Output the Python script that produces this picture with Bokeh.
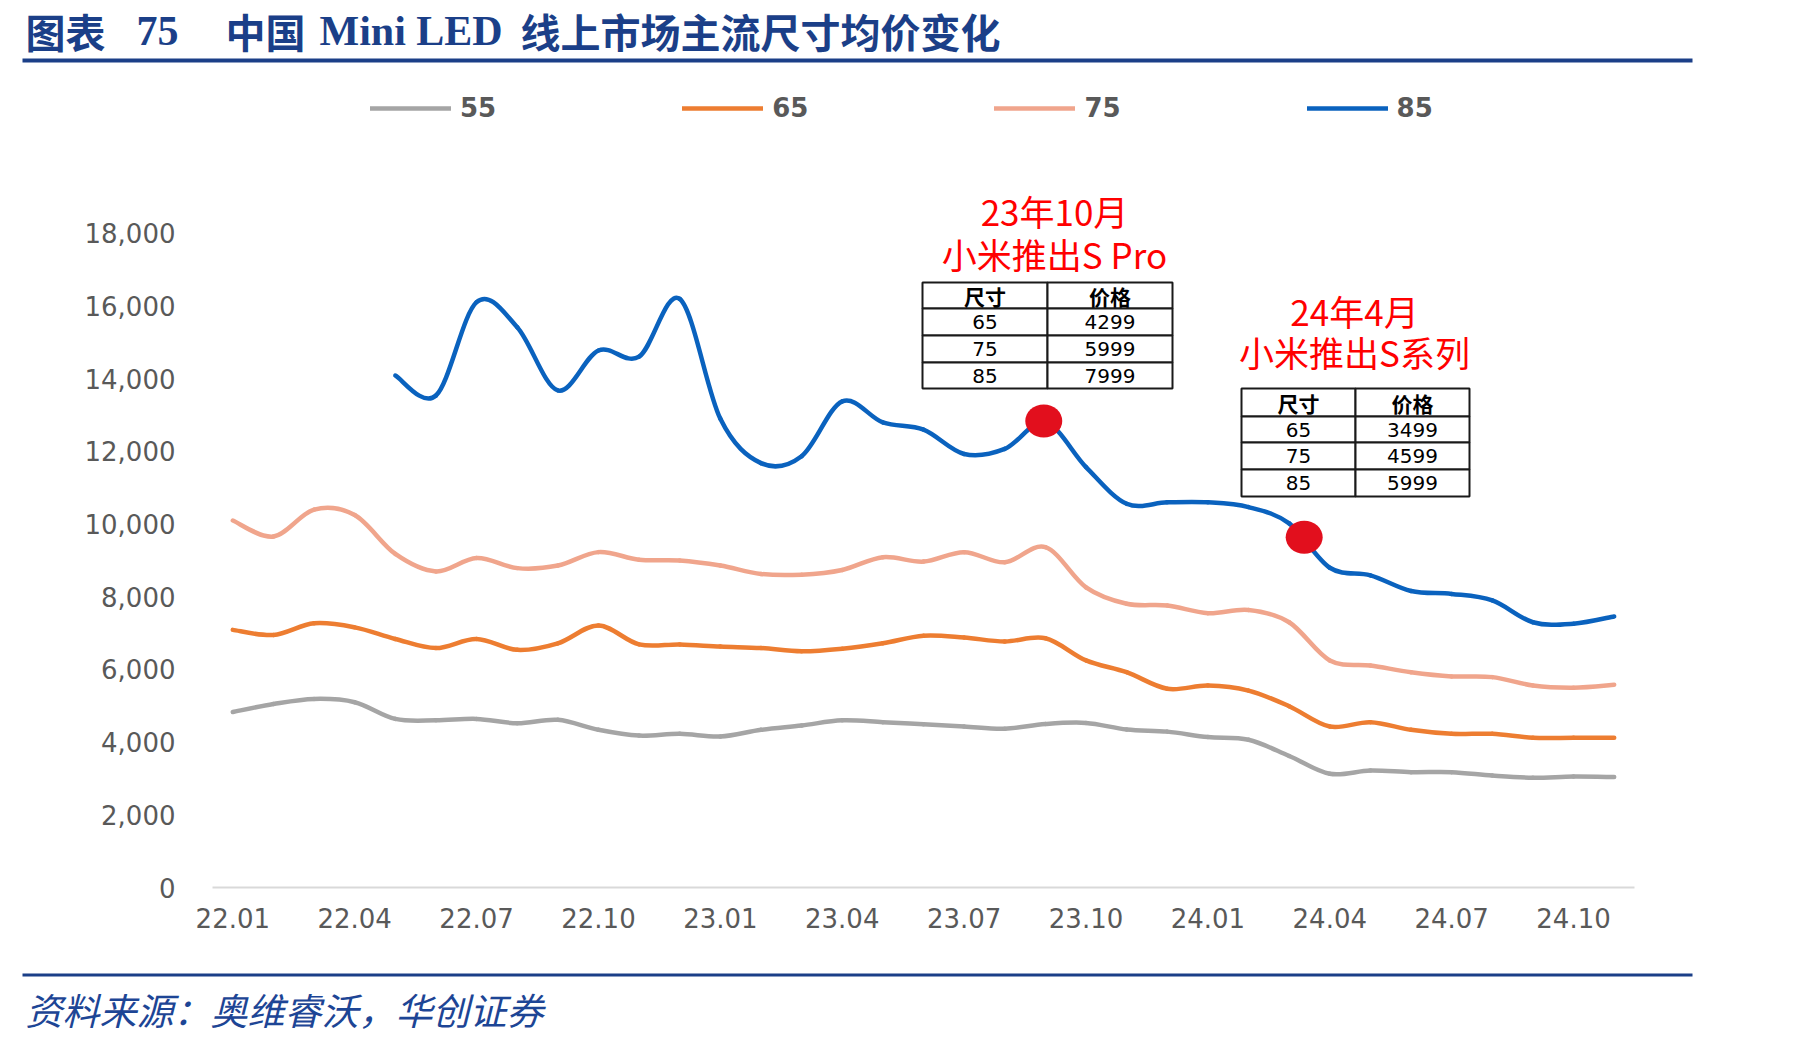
from bokeh.plotting import figure
from bokeh.models import Range1d, FixedTicker, NumeralTickFormatter, Legend, LegendItem
from bokeh.layouts import column
from bokeh.embed import file_html
from bokeh.resources import INLINE
from bokeh.core.properties import value

# ---------------- data ----------------
months = ["22.01", "22.02", "22.03", "22.04", "22.05", "22.06", "22.07", "22.08", "22.09",
          "22.10", "22.11", "22.12", "23.01", "23.02", "23.03", "23.04", "23.05", "23.06",
          "23.07", "23.08", "23.09", "23.10", "23.11", "23.12", "24.01", "24.02", "24.03",
          "24.04", "24.05", "24.06", "24.07", "24.08", "24.09", "24.10", "24.11"]

size_labels = ["55", "65", "75", "85"]

price_55 = [4830, 5050, 5190, 5100, 4640, 4600, 4640, 4520, 4615, 4340, 4180, 4230, 4155,
            4340, 4460, 4600, 4550, 4490, 4430, 4370, 4500, 4530, 4350, 4290, 4140, 4065,
            3620, 3130, 3220, 3175, 3175, 3080, 3020, 3055, 3040]
price_65 = [7090, 6950, 7270, 7160, 6840, 6590, 6840, 6540, 6720, 7210, 6690, 6690, 6630,
            6590, 6500, 6570, 6720, 6930, 6880, 6770, 6860, 6250, 5925, 5470, 5560, 5420,
            4990, 4430, 4550, 4340, 4230, 4230, 4120, 4120, 4120]
price_75 = [10100, 9660, 10400, 10250, 9180, 8700, 9070, 8790, 8860, 9230, 9020, 9000, 8860,
            8630, 8610, 8740, 9090, 8970, 9230, 8950, 9365, 8260, 7810, 7760, 7550, 7640,
            7300, 6250, 6110, 5925, 5810, 5790, 5560, 5500, 5580]
price_85 = [None, None, None, None, 14090, 13540, 16110, 15420, 13680, 14780, 14610, 16200,
            12900, 11680, 11870, 13380, 12800, 12600, 11930, 12070, 12800, 11570, 10560,
            10600, 10600, 10470, 10020, 8800, 8590, 8160, 8080, 7900, 7300, 7260, 7460]

y_ticks = [0, 2000, 4000, 6000, 8000, 10000, 12000, 14000, 16000, 18000]
x_tick_idx = list(range(0, 34, 3))

# launch events on the 85-inch curve
event_x = [19.96, 26.37]
event_y = [12840, 9640]
event_titles = ["23年10月", "24年4月"]
event_subtitles = ["小米推出S Pro", "小米推出S系列"]
table_header = ["尺寸", "价格"]
table_sizes = ["65", "75", "85"]
table_prices_1 = [4299, 5999, 7999]
table_prices_2 = [3499, 4599, 5999]

# ---------------- styling ----------------
colors = ["#A5A5A5", "#ED7D31", "#F0A58C", "#0A62BE"]
NAVY = "#1B3F88"
AXIS_FONT = "DejaVu Sans"
CJK = "Noto Sans CJK SC"

W = 1801
TOP_H, MAIN_H, BOT_H = 66, 899, 78
LEFT, RIGHT, BOTTOM = 212, 167, 78
FRAME_W = W - LEFT - RIGHT
FRAME_H = MAIN_H - BOTTOM
PX_PER_2000 = 72.67
Y_TOP = FRAME_H * 2000 / PX_PER_2000


def smooth_segments(vals):
    """Catmull-Rom style cubic segments through the points (Excel smoothed line)."""
    pts = [(float(i), float(v)) for i, v in enumerate(vals) if v is not None]
    out = dict(x0=[], y0=[], x1=[], y1=[], cx0=[], cy0=[], cx1=[], cy1=[])
    n = len(pts)
    for k in range(n - 1):
        p0 = pts[max(k - 1, 0)]
        p1 = pts[k]
        p2 = pts[k + 1]
        p3 = pts[min(k + 2, n - 1)]
        out["x0"].append(p1[0]); out["y0"].append(p1[1])
        out["x1"].append(p2[0]); out["y1"].append(p2[1])
        out["cx0"].append(p1[0] + (p2[0] - p0[0]) / 6.0)
        out["cy0"].append(p1[1] + (p2[1] - p0[1]) / 6.0)
        out["cx1"].append(p2[0] - (p3[0] - p1[0]) / 6.0)
        out["cy1"].append(p2[1] - (p3[1] - p1[1]) / 6.0)
    return out


# ---------------- header strip ----------------
top = figure(width=W, height=TOP_H, x_range=Range1d(0, W), y_range=Range1d(TOP_H, 0),
             output_backend="svg", toolbar_location=None, x_axis_type=None, y_axis_type=None,
             min_border=0, frame_align=False)
top.outline_line_color = None
top.grid.visible = False
title_parts = [
    ("图表", 25, CJK, "40px"),
    ("75", 136, "Liberation Serif", "42px"),
    ("中国", 225, CJK, "40px"),
    ("Mini LED", 319, "Liberation Serif", "42px"),
    ("线上市场主流尺寸均价变化", 520, CJK, "40px"),
]
for txt, x0, font, size in title_parts:
    top.text(x=[x0], y=[30], text=[txt], text_font=value(font), text_font_size=size,
             text_font_style="bold", text_color=NAVY, text_baseline="middle", text_align="left")
top.quad(left=[22], right=[1692], top=[58], bottom=[62], fill_color=NAVY, line_color=None)

# ---------------- main chart ----------------
p = figure(width=W, height=MAIN_H, x_range=Range1d(-0.5, 34.5), y_range=Range1d(0, Y_TOP),
           output_backend="svg", toolbar_location=None,
           min_border_left=LEFT, min_border_right=RIGHT, min_border_top=0,
           min_border_bottom=BOTTOM, frame_align=False)
p.outline_line_color = None
p.grid.visible = False
p.background_fill_color = "white"

p.yaxis.ticker = FixedTicker(ticks=y_ticks)
p.yaxis.formatter = NumeralTickFormatter(format="0,0")
p.yaxis.axis_line_color = None
p.yaxis.major_tick_line_color = None
p.yaxis.minor_tick_line_color = None
p.yaxis.major_tick_out = 0
p.yaxis.major_label_standoff = 37
p.yaxis.major_label_text_font = AXIS_FONT
p.yaxis.major_label_text_font_size = "26px"
p.yaxis.major_label_text_color = "#595959"

p.xaxis.ticker = FixedTicker(ticks=x_tick_idx)
p.xaxis.major_label_overrides = {i: months[i] for i in x_tick_idx}
p.xaxis.axis_line_color = "#D9D9D9"
p.xaxis.axis_line_width = 2
p.xaxis.major_tick_line_color = None
p.xaxis.minor_tick_line_color = None
p.xaxis.major_tick_out = 0
p.xaxis.major_label_standoff = 20
p.xaxis.major_label_text_font = AXIS_FONT
p.xaxis.major_label_text_font_size = "26px"
p.xaxis.major_label_text_color = "#595959"

series = [price_55, price_65, price_75, price_85]
legend_items = []
for lab, vals, col in zip(size_labels, series, colors):
    seg = smooth_segments(vals)
    r = p.bezier(source=seg, x0="x0", y0="y0", x1="x1", y1="y1",
                 cx0="cx0", cy0="cy0", cx1="cx1", cy1="cy1",
                 line_color=col, line_width=4.5, line_cap="round")
    legend_items.append(LegendItem(label=lab, renderers=[r]))

p.ellipse(x=event_x, y=event_y, width=37, height=33, width_units="screen",
          height_units="screen", fill_color="#E20F1D", line_color=None)

legend = Legend(items=legend_items, orientation="horizontal", location=(158, 764),
                glyph_width=81, glyph_height=30, label_standoff=9, spacing=186,
                padding=0, margin=0, border_line_color=None, background_fill_alpha=0,
                label_text_font=AXIS_FONT, label_text_font_size="26px",
                label_text_font_style="bold", label_text_color="#595959")
p.add_layout(legend)

# pixel-space ranges for the call-outs inside the plotting frame
p.extra_x_ranges = {"px": Range1d(0, FRAME_W)}
p.extra_y_ranges = {"px": Range1d(0, FRAME_H)}
BASE_Y = MAIN_H - BOTTOM + TOP_H  # page y of the frame bottom


def px(x, y):
    return x - LEFT, BASE_Y - y


def callout(cx, title_y, sub_y, title, sub):
    for txt, yy in ((title, title_y), (sub, sub_y)):
        xx, yy2 = px(cx, yy)
        p.text(x=[xx], y=[yy2], text=[txt], text_font=value(CJK), text_font_size="35px",
               text_color="#FF0000", text_align="center", text_baseline="middle",
               x_range_name="px", y_range_name="px")


def price_table(left, split, right, rows, prices):
    lefts, rights, tops, bottoms = [], [], [], []
    for r in range(len(rows) - 1):
        for a, b in ((left, split), (split, right)):
            l, t = px(a, rows[r])
            rr, bb = px(b, rows[r + 1])
            lefts.append(l); rights.append(rr); tops.append(t); bottoms.append(bb)
    p.quad(left=lefts, right=rights, top=tops, bottom=bottoms, fill_color="white",
           line_color="#1A1A1A", line_width=2, x_range_name="px", y_range_name="px")
    c1 = (left + split) / 2
    c2 = (split + right) / 2
    hy = (rows[0] + rows[1]) / 2
    for txt, cx in zip(table_header, (c1, c2)):
        xx, yy = px(cx, hy)
        p.text(x=[xx], y=[yy], text=[txt], text_font=value(CJK), text_font_size="21px",
               text_font_style="bold", text_color="#000000", text_align="center",
               text_baseline="middle", x_range_name="px", y_range_name="px")
    xs, ys, ts = [], [], []
    for k, (s, pr) in enumerate(zip(table_sizes, prices)):
        cy = (rows[k + 1] + rows[k + 2]) / 2
        for cx, t in ((c1, s), (c2, str(pr))):
            xx, yy = px(cx, cy)
            xs.append(xx); ys.append(yy); ts.append(t)
    p.text(x=xs, y=ys, text=ts, text_font=value(AXIS_FONT), text_font_size="20px",
           text_color="#000000", text_align="center", text_baseline="middle",
           x_range_name="px", y_range_name="px")


callout(1054, 210, 253, event_titles[0], event_subtitles[0])
callout(1354, 310, 351, event_titles[1], event_subtitles[1])
price_table(922, 1047, 1172, [282, 308, 335, 362, 388], table_prices_1)
price_table(1241, 1355, 1469, [388, 416, 442, 469, 496], table_prices_2)

# ---------------- footer strip ----------------
bot = figure(width=W, height=BOT_H, x_range=Range1d(0, W), y_range=Range1d(BOT_H, 0),
             output_backend="svg", toolbar_location=None, x_axis_type=None, y_axis_type=None,
             min_border=0, frame_align=False)
bot.outline_line_color = None
bot.grid.visible = False
bot.quad(left=[22], right=[1692], top=[8], bottom=[11], fill_color=NAVY, line_color=None)
bot.text(x=[25], y=[43], text=["资料来源：奥维睿沃，华创证券"], text_font=value(CJK),
         text_font_size="37px", text_font_style="italic", text_color="#1D4595",
         text_align="left", text_baseline="middle")

layout = column(top, p, bot, spacing=0)
open("out.html", "w").write(file_html(layout, INLINE))
